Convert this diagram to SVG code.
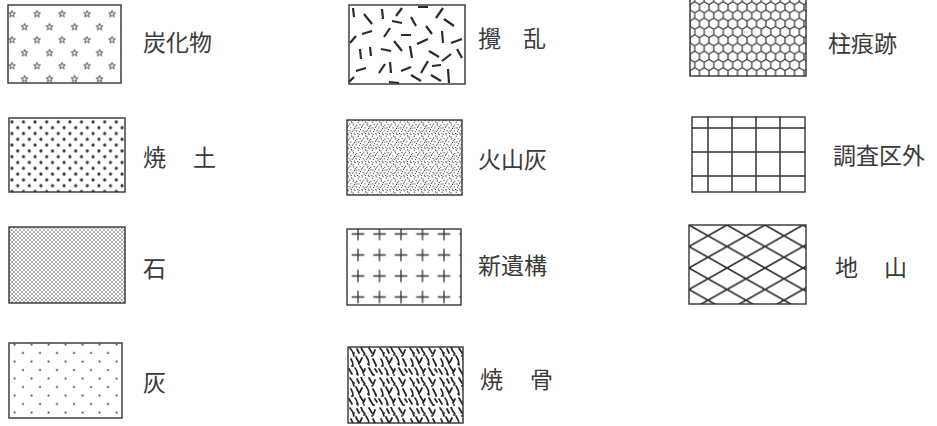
<svg xmlns="http://www.w3.org/2000/svg" width="937" height="426" viewBox="0 0 937 426">
<style>
.box{fill:none;stroke:#333;stroke-width:1.4}
.lbl{font-family:'Noto Sans CJK JP','Noto Sans CJK SC',sans-serif;font-size:23px;fill:#3a3a3a}
.dash{stroke:#2a2a2a;stroke-width:2.2;stroke-linecap:butt}
</style>
<defs>
<path id="star" d="M0,-3.6 L0.84,-1.16 L3.42,-1.11 L1.37,0.44 L2.12,2.91 L0,1.44 L-2.12,2.91 L-1.37,0.44 L-3.42,-1.11 L-0.84,-1.16 Z" fill="none" stroke="#333" stroke-width="0.85"/>
<pattern id="pStar" patternUnits="userSpaceOnUse" x="5.75" y="7.5" width="25" height="26">
<use href="#star" x="6.25" y="6.5"/><use href="#star" x="18.75" y="19.5"/>
</pattern>
<pattern id="pBurnt" patternUnits="userSpaceOnUse" x="9" y="119" width="11.6" height="11.6">
<circle cx="2.9" cy="2.9" r="1.6" fill="#333"/><circle cx="8.7" cy="8.7" r="1.6" fill="#333"/>
</pattern>
<pattern id="pStone" patternUnits="userSpaceOnUse" x="9" y="227" width="4" height="4">
<circle cx="1" cy="1" r="0.78" fill="#3a3a3a"/><circle cx="3" cy="3" r="0.78" fill="#3a3a3a"/>
</pattern>
<pattern id="pAsh" patternUnits="userSpaceOnUse" x="18.75" y="348.75" width="17" height="17">
<circle cx="4.25" cy="4.25" r="1" fill="#333"/><circle cx="12.75" cy="12.75" r="1" fill="#333"/>
</pattern>
<pattern id="pVolc" patternUnits="userSpaceOnUse" x="347" y="120" width="14" height="14">
<g fill="#333">
<circle cx="1.2" cy="0.8" r="0.62"/><circle cx="4.5" cy="1.9" r="0.62"/><circle cx="8.1" cy="0.6" r="0.62"/><circle cx="11.3" cy="2.2" r="0.62"/>
<circle cx="13.1" cy="4.6" r="0.62"/><circle cx="2.7" cy="4.1" r="0.62"/><circle cx="6.4" cy="4.9" r="0.62"/><circle cx="9.8" cy="5.3" r="0.62"/>
<circle cx="0.5" cy="7.2" r="0.62"/><circle cx="3.9" cy="7.8" r="0.62"/><circle cx="7.6" cy="8.4" r="0.62"/><circle cx="11.9" cy="7.9" r="0.62"/>
<circle cx="2.1" cy="10.6" r="0.62"/><circle cx="5.3" cy="11.2" r="0.62"/><circle cx="9.2" cy="10.9" r="0.62"/><circle cx="12.6" cy="11.5" r="0.62"/>
<circle cx="0.9" cy="13.3" r="0.62"/><circle cx="4.4" cy="13.6" r="0.62"/><circle cx="7.4" cy="13.1" r="0.62"/><circle cx="10.7" cy="13.6" r="0.62"/>
<circle cx="13.5" cy="9.6" r="0.62"/><circle cx="6.0" cy="2.9" r="0.62"/><circle cx="9.9" cy="8.0" r="0.62"/><circle cx="3.2" cy="12.0" r="0.62"/>
<circle cx="12.2" cy="0.2" r="0.62"/><circle cx="1.6" cy="5.8" r="0.62"/><circle cx="8.3" cy="6.7" r="0.62"/><circle cx="6.6" cy="10.0" r="0.62"/>
</g>
</pattern>
<pattern id="pPlus" patternUnits="userSpaceOnUse" x="347.25" y="223.5" width="21.5" height="21">
<path d="M4.5,10.5 H17 M10.75,4.25 V16.75" stroke="#333" stroke-width="1.3" fill="none"/>
</pattern>
<pattern id="pBone" patternUnits="userSpaceOnUse" x="348" y="347" width="30" height="30">
<path d="M2,1 q3,3 4,8 M9,2 l2,4 M13,0 q1,4 4,7 M21,1 l3,5 M27,3 l-2,5 M3,12 q2,3 2,7 M8,10 l3,6 M14,11 l-2,4 M18,9 q3,4 3,9 M25,12 l3,6 M1,22 l3,5 M7,21 q2,2 3,7 M12,19 l3,5 M17,22 l-2,4 M21,21 l4,7 M27,22 l2,3" stroke="#222" stroke-width="1.7" stroke-linecap="round" fill="none"/>
<g fill="#222"><circle cx="6" cy="6" r="0.9"/><circle cx="16" cy="8" r="0.9"/><circle cx="24" cy="9" r="0.9"/><circle cx="11" cy="17" r="0.9"/><circle cx="20" cy="17" r="0.9"/><circle cx="4" cy="19" r="0.9"/><circle cx="28" cy="19" r="0.9"/><circle cx="9" cy="27" r="0.9"/><circle cx="16" cy="28" r="0.9"/><circle cx="26" cy="28" r="0.9"/></g>
</pattern>
<pattern id="pHex" patternUnits="userSpaceOnUse" x="690" y="-1" width="9.5" height="16.5">
<path d="M4.75,2.75 L9.5,5.5 L9.5,11 L4.75,13.75 L0,11 L0,5.5 Z M4.75,0 V2.75 M4.75,13.75 V16.5" stroke="#333" stroke-width="1.2" fill="none"/>
</pattern>
<pattern id="pDiamond" patternUnits="userSpaceOnUse" x="689" y="225" width="38" height="21.5">
<path d="M0,0 L38,21.5 M0,21.5 L38,0" stroke="#333" stroke-width="1.7" fill="none"/>
</pattern>
</defs>
<rect width="937" height="426" fill="#fff"/>

<g id="charcoal">
<rect x="8" y="5" width="113" height="78" fill="url(#pStar)"/>
<rect class="box" x="8" y="5" width="113" height="78"/>
<text class="lbl" x="143" y="51">炭化物</text>
</g>
<g id="burnt-soil">
<rect x="9" y="118" width="116" height="74" fill="url(#pBurnt)"/>
<rect class="box" x="9" y="118" width="116" height="74"/>
<text class="lbl" x="143" y="166">焼</text><text class="lbl" x="193" y="166">土</text>
</g>
<g id="stone">
<rect x="9" y="227" width="116" height="76" fill="url(#pStone)"/>
<rect class="box" x="9" y="227" width="116" height="76"/>
<text class="lbl" x="143" y="277">石</text>
</g>
<g id="ash">
<rect x="9" y="343" width="113" height="75" fill="url(#pAsh)"/>
<rect class="box" x="9" y="343" width="113" height="75"/>
<text class="lbl" x="143" y="391">灰</text>
</g>

<g id="disturbance">
<rect class="box" x="349" y="5" width="116" height="79"/>
<path class="dash" d="M353,8 L354,17 M364,14 L372,24 M382,9 L383,19 M396,16 L402,8 M418,7 L428,7 M436,18 L443,8 M444,19 L454,26 M392,21 L402,23 M411,17 L416,26 M362,34 L372,31 M384,37 L390,28 M401,35 L411,35 M426,26 L432,34 M442,31 L443,43 M451,43 L462,39 M350,43 L356,36 M360,49 L361,59 M370,47 L371,56 M381,49 L391,51 M394,41 L402,51 M410,46 L412,58 M417,44 L428,39 M429,51 L439,57 M457,49 L462,58 M356,71 L366,68 M379,73 L385,64 M390,62 L391,73 M401,71 L411,67 M421,73 L428,61 M432,66 L441,65 M442,61 L451,54 M411,75 L421,81 M431,75 L441,81 M389,82 L399,83 M349,82 L354,77 M448,69 L449,83"/>
<text class="lbl" x="478" y="47">攪</text><text class="lbl" x="523" y="47">乱</text>
</g>
<g id="volcanic-ash">
<rect x="347" y="120" width="115" height="75" fill="url(#pVolc)"/>
<rect class="box" x="347" y="120" width="115" height="75"/>
<text class="lbl" x="478" y="168">火山灰</text>
</g>
<g id="new-feature">
<rect x="347" y="229" width="114" height="76" fill="url(#pPlus)"/>
<rect class="box" x="347" y="229" width="114" height="76"/>
<text class="lbl" x="478" y="274">新遺構</text>
</g>
<g id="burnt-bone">
<rect x="348" y="347" width="115" height="76" fill="url(#pBone)"/>
<rect class="box" x="348" y="347" width="115" height="76"/>
<text class="lbl" x="480" y="388">焼</text><text class="lbl" x="530" y="388">骨</text>
</g>

<g id="post-trace">
<rect x="690" y="-1" width="116" height="77" fill="url(#pHex)"/>
<rect class="box" x="690" y="-1" width="116" height="77"/>
<text class="lbl" x="828" y="52">柱痕跡</text>
</g>
<g id="outside-area">
<rect class="box" x="692" y="117" width="113" height="75"/>
<path d="M708,117 V192 M732,117 V192 M756,117 V192 M780,117 V192 M692,128 H805 M692,152 H805 M692,176 H805" stroke="#333" stroke-width="1.5" fill="none"/>
<text class="lbl" x="833" y="164">調査区外</text>
</g>
<g id="subsoil">
<rect x="689" y="225" width="117" height="79" fill="url(#pDiamond)"/>
<rect class="box" x="689" y="225" width="117" height="79"/>
<text class="lbl" x="835" y="276">地</text><text class="lbl" x="884" y="276">山</text>
</g>
</svg>
